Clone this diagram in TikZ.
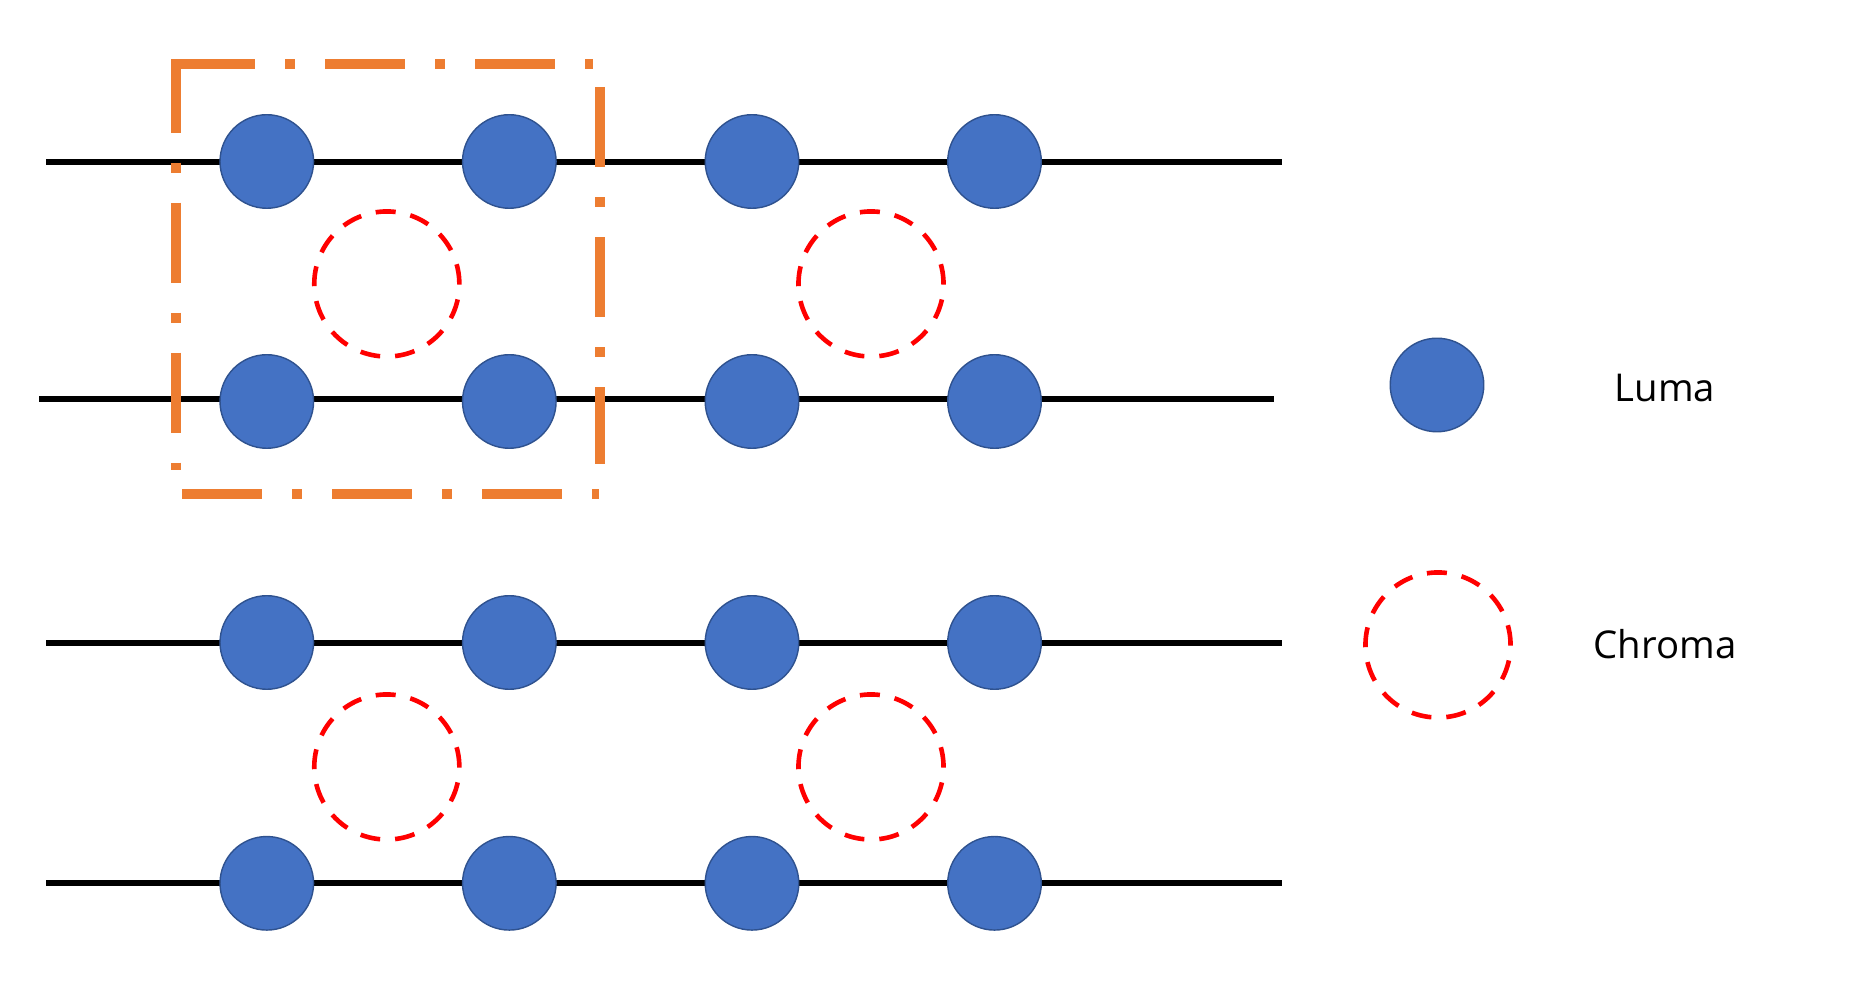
\documentclass[tikz,border=0pt]{standalone}
\usepackage{fontspec}
\setmainfont{Open Sans}
\definecolor{lumafill}{HTML}{4472C4}
\definecolor{lumaedge}{HTML}{2F528F}
\definecolor{boxorange}{HTML}{ED7D31}
\begin{document}
\begin{tikzpicture}[x=0.01cm,y=-0.01cm,
  luma/.style={circle,fill=lumafill,draw=lumaedge,line width=0.4pt,minimum size=0.935cm,inner sep=0pt},
  chroma/.style={circle,draw=red,line width=0.046cm,dash pattern=on 0.2cm off 0.15cm,minimum size=1.45cm,inner sep=0pt},
  rowline/.style={line width=0.06cm,black},
  selbox/.style={draw=boxorange,line width=0.093cm,dash pattern=on 0.8cm off 0.3cm on 0.1cm off 0.3cm},
  lbl/.style={font=\fontsize{10.9}{13}\selectfont,anchor=base,inner sep=0pt}]
\useasboundingbox (0,0) rectangle (1851,986);
% row line end points
\coordinate (r1a) at (46,162.3);   \coordinate (r1b) at (1281.7,162.3);
\coordinate (r2a) at (39.3,399.3); \coordinate (r2b) at (1274.3,399.3);
\coordinate (r3a) at (46,643.3);   \coordinate (r3b) at (1281.7,643.3);
\coordinate (r4a) at (46,883.3);   \coordinate (r4b) at (1281.7,883.3);
\draw[rowline] (r1a) -- (r1b);
\draw[rowline] (r2a) -- (r2b);
\draw[rowline] (r3a) -- (r3b);
\draw[rowline] (r4a) -- (r4b);
% luma samples
\foreach \r/\y in {1/161.5,2/401.5,3/642.5,4/883.3}{
  \node[luma] (l\r a) at (266.8,\y) {};
  \node[luma] (l\r b) at (509.3,\y) {};
  \node[luma] (l\r c) at (752,\y) {};
  \node[luma] (l\r d) at (994.5,\y) {};
}
% chroma samples
\node[chroma] (c1a) at (386.8,284) {};
\node[chroma] (c1b) at (871,284) {};
\node[chroma] (c2a) at (386.8,767) {};
\node[chroma] (c2b) at (871,767) {};
% selection box
\coordinate (bl1) at (176,59.5);  \coordinate (bl2) at (176,470);
\coordinate (bt1) at (175,64);    \coordinate (bt2) at (593,64);
\coordinate (br1) at (600,87);    \coordinate (br2) at (600,464);
\coordinate (bb1) at (182,494);   \coordinate (bb2) at (599,494);
\draw[selbox,dash phase=0.07cm] (bl1) -- (bl2);
\draw[selbox] (bt1) -- (bt2);
\draw[selbox] (br1) -- (br2);
\draw[selbox] (bb1) -- (bb2);
% legend
\node[luma] (legl) at (1437,385) {};
\node[chroma] (legc) at (1438,645) {};
\node[lbl] (tl) at (1665,402) {Luma};
\node[lbl] (tc) at (1665,659) {Chroma};
\end{tikzpicture}
\end{document}
